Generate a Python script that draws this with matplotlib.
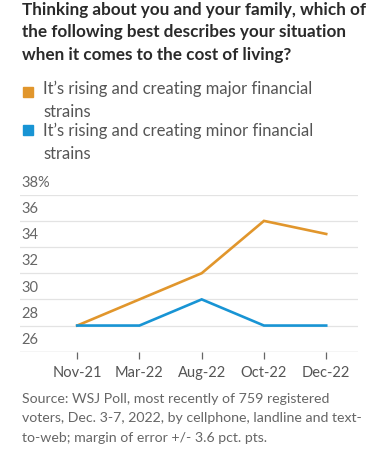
import matplotlib.pyplot as plt
from matplotlib.patches import Rectangle
from matplotlib.transforms import blended_transform_factory, offset_copy

plt.rcParams['font.family'] = ['Lato', 'DejaVu Sans']

months = ['Nov-21', 'Mar-22', 'Aug-22', 'Oct-22', 'Dec-22']
major = [28, 30, 32, 36, 35]
minor = [28, 28, 30, 28, 28]
y_ticks = [26, 28, 30, 32, 34, 36, 38]

orange = '#E1962C'
blue = '#1894D4'

fig = plt.figure(figsize=(3.76, 4.54), dpi=100)
ax = fig.add_axes([0.053, 0.2253, 0.899, 0.3458])

x = list(range(len(months)))
ax.plot(x, major, color=orange, lw=1.9, solid_joinstyle='miter')
ax.plot(x, minor, color=blue, lw=1.9, solid_joinstyle='miter')

ax.set_xlim(-0.92, 4.51)
ax.set_ylim(26, 38)
for s in ax.spines.values():
    s.set_visible(False)
for v in y_ticks:
    ax.axhline(v, color='#e3e3e3', lw=0.9, zorder=0)
ax.axhline(26, color='#cfcfcf', lw=0.9, zorder=0)

ax.set_yticks([])
ax.set_xticks(x)
ax.set_xticklabels(months, fontsize=10.5, color='#555555')
ax.tick_params(axis='x', length=5, width=0.9, color='#666666', pad=5)

tr = offset_copy(blended_transform_factory(ax.transAxes, ax.transData),
                 fig=fig, x=0, y=3.5, units='points')
for v in y_ticks:
    lab = f'{v}%' if v == 38 else str(v)
    ax.text(0.005, v, lab, transform=tr, fontsize=10.5, color='#666666',
            ha='left', va='bottom')

fig.text(22 / 376, 1 - 2 / 454,
         'Thinking about you and your family, which of\n'
         'the following best describes your situation\n'
         'when it comes to the cost of living?',
         fontsize=12.3, fontweight='bold', color='#2a2a2a',
         ha='left', va='top', linespacing=1.5)

legend_items = [('It\u2019s rising and creating major financial\nstrains', orange, 92, 91),
                ('It\u2019s rising and creating minor financial\nstrains', blue, 130, 133)]
for label, col, ysq, ytxt in legend_items:
    fig.patches.append(Rectangle((23 / 376, 1 - (ysq + 5) / 454), 10 / 376, 10 / 454,
                                 transform=fig.transFigure, color=col))
    fig.text(43 / 376, 1 - (ytxt - 10) / 454, label, fontsize=12, color='#555555',
             ha='left', va='top', linespacing=1.5)

fig.text(22 / 376, 1 - 393 / 454,
         'Source: WSJ Poll, most recently of 759 registered\n'
         'voters, Dec. 3-7, 2022, by cellphone, landline and text-\n'
         'to-web; margin of error +/- 3.6 pct. pts.',
         fontsize=10.2, color='#666666', ha='left', va='top', linespacing=1.75)

fig.savefig('out.png', dpi=100)
